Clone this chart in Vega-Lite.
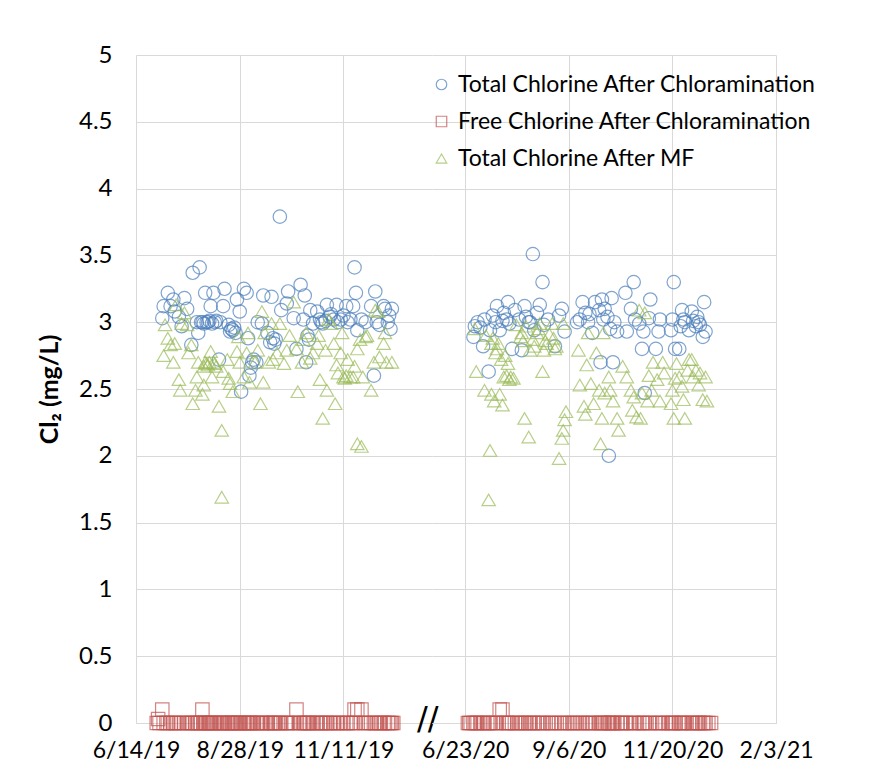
{
 "$schema": "https://vega.github.io/schema/vega-lite/v6.json",
 "autosize": {"type": "pad"},
 "padding": {"left": 37, "top": 43, "right": 5, "bottom": 5},
 "background": "white",
 "bounds": "flush",
 "spacing": 0,
 "config": {"view": {"stroke": null}, "font": "Lato"},
 "resolve": {"scale": {"x": "independent", "y": "independent", "color": "shared", "shape": "shared"}},
 "datasets": {
  "p2019": [
    {"d":"2019-07-03","total":3.03,"free":0.1},{"d":"2019-07-04","total":3.12,"free":0},{"d":"2019-07-07","total":3.22,"free":0},{"d":"2019-07-09","total":3.12,"free":0},{"d":"2019-07-11","total":3.17,"free":0},{"d":"2019-07-12","total":3.08,"free":0},{"d":"2019-07-15","total":3.04,"free":0},{"d":"2019-07-17","total":2.97,"free":0},{"d":"2019-07-19","total":3.18,"free":0},{"d":"2019-07-21","total":3.10,"free":0},{"d":"2019-07-24","total":2.83,"free":0},{"d":"2019-07-25","total":3.37,"free":0},{"d":"2019-07-28","total":3.00,"free":0},{"d":"2019-07-29","total":2.92,"free":0},{"d":"2019-07-30","total":3.41,"free":0},{"d":"2019-07-31","total":3.00,"free":0},{"d":"2019-08-01","total":3.00,"free":0.1},{"d":"2019-08-02","total":2.99,"free":0},{"d":"2019-08-03","total":3.22,"free":0},{"d":"2019-08-04","total":3.00,"free":0},{"d":"2019-08-05","total":3.00,"free":0},{"d":"2019-08-06","total":3.01,"free":0},{"d":"2019-08-07","total":3.12,"free":0},{"d":"2019-08-08","total":2.99,"free":0},{"d":"2019-08-09","total":3.22,"free":0},{"d":"2019-08-10","total":3.00,"free":0},{"d":"2019-08-11","total":3.01,"free":0},{"d":"2019-08-13","total":2.72,"free":0},{"d":"2019-08-14","total":3.00,"free":0},{"d":"2019-08-16","total":3.12,"free":0},{"d":"2019-08-17","total":3.25,"free":0},{"d":"2019-08-20","total":2.98,"free":0},{"d":"2019-08-21","total":2.93,"free":0},{"d":"2019-08-22","total":2.95,"free":0},{"d":"2019-08-23","total":2.94,"free":0},{"d":"2019-08-24","total":2.96,"free":0},{"d":"2019-08-25","total":2.92,"free":0},{"d":"2019-08-26","total":3.17,"free":0},{"d":"2019-08-28","total":3.08,"free":0},{"d":"2019-08-29","total":2.48,"free":0},{"d":"2019-08-31","total":3.25,"free":0},{"d":"2019-09-02","total":3.22,"free":0},{"d":"2019-09-03","total":2.88,"free":0},{"d":"2019-09-04","total":2.60,"free":0},{"d":"2019-09-05","total":2.66,"free":0},{"d":"2019-09-06","total":2.70,"free":0},{"d":"2019-09-07","total":2.72,"free":0},{"d":"2019-09-09","total":2.70,"free":0},{"d":"2019-09-10","total":3.00,"free":0},{"d":"2019-09-13","total":2.99,"free":0},{"d":"2019-09-14","total":3.20,"free":0},{"d":"2019-09-17","total":2.92,"free":0},{"d":"2019-09-19","total":2.85,"free":0},{"d":"2019-09-20","total":3.19,"free":0},{"d":"2019-09-21","total":2.88,"free":0},{"d":"2019-09-22","total":2.84,"free":0},{"d":"2019-09-23","total":2.87,"free":0},{"d":"2019-09-26","total":3.79,"free":0},{"d":"2019-09-27","total":3.09,"free":0},{"d":"2019-10-01","total":3.14,"free":0},{"d":"2019-10-02","total":3.23,"free":0},{"d":"2019-10-06","total":3.03,"free":0},{"d":"2019-10-08","total":2.80,"free":0.1},{"d":"2019-10-11","total":3.28,"free":0},{"d":"2019-10-13","total":3.02,"free":0},{"d":"2019-10-14","total":3.20,"free":0},{"d":"2019-10-15","total":2.70,"free":0},{"d":"2019-10-16","total":2.90,"free":0},{"d":"2019-10-17","total":2.87,"free":0},{"d":"2019-10-18","total":3.09,"free":0},{"d":"2019-10-20","total":2.99,"free":0},{"d":"2019-10-23","total":3.08,"free":0},{"d":"2019-10-25","total":3.02,"free":0},{"d":"2019-10-26","total":3.00,"free":0},{"d":"2019-10-27","total":2.99,"free":0},{"d":"2019-10-29","total":3.01,"free":0},{"d":"2019-10-30","total":3.13,"free":0},{"d":"2019-11-01","total":3.04,"free":0},{"d":"2019-11-02","total":3.06,"free":0},{"d":"2019-11-04","total":3.02,"free":0},{"d":"2019-11-06","total":3.13,"free":0},{"d":"2019-11-07","total":3.00,"free":0},{"d":"2019-11-09","total":3.02,"free":0},{"d":"2019-11-11","total":3.05,"free":0},{"d":"2019-11-13","total":3.12,"free":0},{"d":"2019-11-14","total":3.00,"free":0},{"d":"2019-11-16","total":3.02,"free":0},{"d":"2019-11-18","total":3.12,"free":0},{"d":"2019-11-19","total":3.41,"free":0.1},{"d":"2019-11-20","total":3.22,"free":0},{"d":"2019-11-21","total":2.94,"free":0.1},{"d":"2019-11-24","total":3.02,"free":0.1},{"d":"2019-11-27","total":3.00,"free":0},{"d":"2019-12-01","total":3.12,"free":0},{"d":"2019-12-03","total":2.60,"free":0},{"d":"2019-12-04","total":3.23,"free":0},{"d":"2019-12-05","total":3.00,"free":0},{"d":"2019-12-07","total":2.98,"free":0},{"d":"2019-12-10","total":3.12,"free":0},{"d":"2019-12-11","total":3.10,"free":0},{"d":"2019-12-13","total":3.00,"free":0},{"d":"2019-12-14","total":3.05,"free":0},{"d":"2019-12-15","total":2.95,"free":0},{"d":"2019-12-16","total":3.10,"free":0},
    {"d":"2019-06-29","free":0},{"d":"2019-06-30","free":0.03},{"d":"2019-07-01","free":0},{"d":"2019-07-06","free":0},{"d":"2019-07-13","free":0},{"d":"2019-07-23","free":0},{"d":"2019-07-27","free":0},{"d":"2019-08-15","free":0},{"d":"2019-08-19","free":0},{"d":"2019-08-27","free":0},{"d":"2019-09-01","free":0},{"d":"2019-09-12","free":0},{"d":"2019-09-16","free":0},{"d":"2019-09-25","free":0},{"d":"2019-09-30","free":0},{"d":"2019-10-04","free":0},{"d":"2019-10-10","free":0},{"d":"2019-10-22","free":0},{"d":"2019-11-26","free":0},{"d":"2019-11-29","free":0},{"d":"2019-12-08","free":0},{"d":"2019-12-17","free":0},
    {"d":"2019-07-04","mf":2.75},{"d":"2019-07-05","mf":2.98},{"d":"2019-07-07","mf":2.88},{"d":"2019-07-09","mf":2.83},{"d":"2019-07-11","mf":2.70},{"d":"2019-07-12","mf":2.84},{"d":"2019-07-13","mf":3.13},{"d":"2019-07-15","mf":2.57},{"d":"2019-07-16","mf":2.49},{"d":"2019-07-17","mf":2.99},{"d":"2019-07-19","mf":3.07},{"d":"2019-07-21","mf":2.98},{"d":"2019-07-22","mf":2.77},{"d":"2019-07-24","mf":2.83},{"d":"2019-07-25","mf":2.39},{"d":"2019-07-27","mf":2.49},{"d":"2019-07-28","mf":2.59},{"d":"2019-07-29","mf":2.70},{"d":"2019-08-01","mf":2.46},{"d":"2019-08-02","mf":2.53},{"d":"2019-08-02","mf":2.67},{"d":"2019-08-03","mf":2.70},{"d":"2019-08-04","mf":2.69},{"d":"2019-08-05","mf":2.68},{"d":"2019-08-06","mf":2.70},{"d":"2019-08-07","mf":2.78},{"d":"2019-08-08","mf":2.59},{"d":"2019-08-09","mf":2.70},{"d":"2019-08-10","mf":2.69},{"d":"2019-08-11","mf":2.67},{"d":"2019-08-13","mf":2.37},{"d":"2019-08-15","mf":2.19},{"d":"2019-08-15","mf":1.69},{"d":"2019-08-16","mf":2.63},{"d":"2019-08-19","mf":2.72},{"d":"2019-08-20","mf":2.58},{"d":"2019-08-21","mf":2.54},{"d":"2019-08-23","mf":2.48},{"d":"2019-08-26","mf":2.78},{"d":"2019-08-27","mf":2.89},{"d":"2019-08-28","mf":2.70},{"d":"2019-08-31","mf":2.59},{"d":"2019-09-02","mf":2.77},{"d":"2019-09-03","mf":2.92},{"d":"2019-09-04","mf":2.55},{"d":"2019-09-08","mf":2.70},{"d":"2019-09-10","mf":2.79},{"d":"2019-09-12","mf":2.39},{"d":"2019-09-13","mf":3.08},{"d":"2019-09-14","mf":2.55},{"d":"2019-09-15","mf":2.92},{"d":"2019-09-18","mf":2.70},{"d":"2019-09-20","mf":2.99},{"d":"2019-09-21","mf":2.72},{"d":"2019-09-24","mf":2.77},{"d":"2019-09-26","mf":2.99},{"d":"2019-09-29","mf":2.69},{"d":"2019-10-01","mf":2.79},{"d":"2019-10-03","mf":2.90},{"d":"2019-10-06","mf":3.15},{"d":"2019-10-08","mf":2.80},{"d":"2019-10-09","mf":2.48},{"d":"2019-10-12","mf":2.70},{"d":"2019-10-13","mf":2.87},{"d":"2019-10-15","mf":2.92},{"d":"2019-10-18","mf":2.73},{"d":"2019-10-20","mf":2.77},{"d":"2019-10-23","mf":2.84},{"d":"2019-10-24","mf":2.90},{"d":"2019-10-25","mf":2.57},{"d":"2019-10-27","mf":2.28},{"d":"2019-10-29","mf":2.79},{"d":"2019-10-30","mf":2.49},{"d":"2019-10-31","mf":3.02},{"d":"2019-11-02","mf":2.99},{"d":"2019-11-04","mf":2.84},{"d":"2019-11-05","mf":2.39},{"d":"2019-11-06","mf":2.68},{"d":"2019-11-07","mf":2.62},{"d":"2019-11-09","mf":2.77},{"d":"2019-11-10","mf":2.92},{"d":"2019-11-11","mf":2.59},{"d":"2019-11-12","mf":2.58},{"d":"2019-11-13","mf":2.60},{"d":"2019-11-14","mf":2.72},{"d":"2019-11-16","mf":2.59},{"d":"2019-11-18","mf":2.59},{"d":"2019-11-19","mf":2.67},{"d":"2019-11-21","mf":2.09},{"d":"2019-11-21","mf":2.80},{"d":"2019-11-23","mf":2.87},{"d":"2019-11-24","mf":2.07},{"d":"2019-11-25","mf":2.59},{"d":"2019-11-27","mf":2.89},{"d":"2019-11-28","mf":2.90},{"d":"2019-12-01","mf":2.49},{"d":"2019-12-03","mf":2.70},{"d":"2019-12-04","mf":3.09},{"d":"2019-12-06","mf":3.08},{"d":"2019-12-07","mf":2.74},{"d":"2019-12-10","mf":2.84},{"d":"2019-12-11","mf":2.92},{"d":"2019-12-12","mf":2.70},{"d":"2019-12-16","mf":2.70}
  ],
  "p2020": [
    {"d":"2020-06-29","total":2.89,"free":0},{"d":"2020-06-30","total":2.97,"free":0},{"d":"2020-07-02","total":3.00,"free":0},{"d":"2020-07-04","total":2.96,"free":0},{"d":"2020-07-06","total":2.82,"free":0},{"d":"2020-07-07","total":3.02,"free":0},{"d":"2020-07-10","total":2.63,"free":0},{"d":"2020-07-11","total":2.94,"free":0},{"d":"2020-07-13","total":3.05,"free":0},{"d":"2020-07-15","total":3.00,"free":0},{"d":"2020-07-16","total":3.12,"free":0},{"d":"2020-07-18","total":2.94,"free":0.1},{"d":"2020-07-20","total":3.01,"free":0.1},{"d":"2020-07-21","total":3.07,"free":0},{"d":"2020-07-23","total":3.02,"free":0},{"d":"2020-07-24","total":3.15,"free":0},{"d":"2020-07-25","total":2.99,"free":0},{"d":"2020-07-27","total":2.80,"free":0},{"d":"2020-07-29","total":3.09,"free":0},{"d":"2020-08-01","total":3.02,"free":0},{"d":"2020-08-03","total":2.79,"free":0},{"d":"2020-08-05","total":3.12,"free":0},{"d":"2020-08-06","total":3.04,"free":0},{"d":"2020-08-08","total":3.00,"free":0},{"d":"2020-08-09","total":3.00,"free":0},{"d":"2020-08-11","total":3.51,"free":0},{"d":"2020-08-12","total":2.94,"free":0},{"d":"2020-08-14","total":3.07,"free":0},{"d":"2020-08-16","total":3.13,"free":0},{"d":"2020-08-18","total":3.30,"free":0},{"d":"2020-08-19","total":2.98,"free":0},{"d":"2020-08-22","total":3.02,"free":0},{"d":"2020-08-27","total":2.82,"free":0},{"d":"2020-08-30","total":3.05,"free":0},{"d":"2020-09-01","total":3.10,"free":0},{"d":"2020-09-03","total":2.93,"free":0},{"d":"2020-09-12","total":3.00,"free":0},{"d":"2020-09-14","total":3.02,"free":0},{"d":"2020-09-16","total":3.15,"free":0},{"d":"2020-09-18","total":3.07,"free":0},{"d":"2020-09-20","total":3.00,"free":0},{"d":"2020-09-21","total":3.06,"free":0},{"d":"2020-09-23","total":2.92,"free":0},{"d":"2020-09-25","total":3.15,"free":0},{"d":"2020-09-28","total":3.09,"free":0},{"d":"2020-09-29","total":2.70,"free":0},{"d":"2020-09-30","total":3.17,"free":0},{"d":"2020-10-01","total":3.02,"free":0},{"d":"2020-10-02","total":3.10,"free":0},{"d":"2020-10-04","total":3.04,"free":0},{"d":"2020-10-05","total":2.00,"free":0},{"d":"2020-10-06","total":2.95,"free":0},{"d":"2020-10-07","total":3.18,"free":0},{"d":"2020-10-08","total":2.70,"free":0},{"d":"2020-10-09","total":3.00,"free":0},{"d":"2020-10-11","total":2.93,"free":0},{"d":"2020-10-17","total":3.22,"free":0},{"d":"2020-10-18","total":2.93,"free":0},{"d":"2020-10-21","total":3.10,"free":0},{"d":"2020-10-23","total":3.30,"free":0},{"d":"2020-10-24","total":3.02,"free":0},{"d":"2020-10-27","total":2.99,"free":0},{"d":"2020-10-29","total":2.80,"free":0},{"d":"2020-10-30","total":2.93,"free":0},{"d":"2020-10-31","total":2.47,"free":0},{"d":"2020-11-03","total":3.03,"free":0},{"d":"2020-11-04","total":3.17,"free":0},{"d":"2020-11-08","total":2.80,"free":0},{"d":"2020-11-10","total":2.93,"free":0},{"d":"2020-11-11","total":3.02,"free":0},{"d":"2020-11-19","total":2.94,"free":0},{"d":"2020-11-20","total":3.02,"free":0},{"d":"2020-11-21","total":3.30,"free":0},{"d":"2020-11-22","total":2.80,"free":0},{"d":"2020-11-25","total":2.80,"free":0},{"d":"2020-11-26","total":2.97,"free":0},{"d":"2020-11-27","total":3.09,"free":0},{"d":"2020-11-28","total":3.02,"free":0},{"d":"2020-11-29","total":3.00,"free":0},{"d":"2020-12-02","total":2.94,"free":0},{"d":"2020-12-04","total":3.08,"free":0},{"d":"2020-12-05","total":3.01,"free":0},{"d":"2020-12-07","total":2.97,"free":0},{"d":"2020-12-08","total":3.04,"free":0},{"d":"2020-12-09","total":3.00,"free":0},{"d":"2020-12-10","total":2.98,"free":0},{"d":"2020-12-12","total":2.89,"free":0},{"d":"2020-12-13","total":3.15,"free":0},{"d":"2020-12-14","total":2.93,"free":0},
    {"d":"2020-06-25","free":0},{"d":"2020-06-26","free":0},{"d":"2020-06-27","free":0},{"d":"2020-07-01","free":0},{"d":"2020-07-09","free":0},{"d":"2020-07-31","free":0},{"d":"2020-08-24","free":0},{"d":"2020-08-25","free":0},{"d":"2020-09-05","free":0},{"d":"2020-09-07","free":0},{"d":"2020-09-09","free":0},{"d":"2020-09-10","free":0},{"d":"2020-10-13","free":0},{"d":"2020-10-14","free":0},{"d":"2020-10-15","free":0},{"d":"2020-11-13","free":0},{"d":"2020-11-15","free":0},{"d":"2020-11-17","free":0},{"d":"2020-12-16","free":0},{"d":"2020-12-18","free":0},
    {"d":"2020-06-30","mf":2.95},{"d":"2020-07-01","mf":2.63},{"d":"2020-07-07","mf":2.49},{"d":"2020-07-08","mf":2.90},{"d":"2020-07-10","mf":1.67},{"d":"2020-07-11","mf":2.04},{"d":"2020-07-12","mf":2.46},{"d":"2020-07-12","mf":2.84},{"d":"2020-07-13","mf":2.88},{"d":"2020-07-14","mf":2.41},{"d":"2020-07-15","mf":2.77},{"d":"2020-07-16","mf":2.80},{"d":"2020-07-17","mf":2.84},{"d":"2020-07-18","mf":2.46},{"d":"2020-07-19","mf":2.72},{"d":"2020-07-20","mf":2.38},{"d":"2020-07-21","mf":2.59},{"d":"2020-07-22","mf":2.75},{"d":"2020-07-23","mf":2.60},{"d":"2020-07-24","mf":2.69},{"d":"2020-07-25","mf":2.57},{"d":"2020-07-26","mf":2.59},{"d":"2020-07-28","mf":2.58},{"d":"2020-07-30","mf":2.98},{"d":"2020-08-02","mf":2.89},{"d":"2020-08-03","mf":2.92},{"d":"2020-08-04","mf":2.86},{"d":"2020-08-05","mf":2.28},{"d":"2020-08-06","mf":2.97},{"d":"2020-08-08","mf":2.14},{"d":"2020-08-09","mf":2.79},{"d":"2020-08-11","mf":2.87},{"d":"2020-08-12","mf":2.82},{"d":"2020-08-14","mf":2.92},{"d":"2020-08-15","mf":2.95},{"d":"2020-08-16","mf":2.99},{"d":"2020-08-18","mf":2.63},{"d":"2020-08-19","mf":2.79},{"d":"2020-08-20","mf":2.86},{"d":"2020-08-21","mf":2.84},{"d":"2020-08-23","mf":2.91},{"d":"2020-08-25","mf":2.99},{"d":"2020-08-26","mf":2.88},{"d":"2020-08-27","mf":2.80},{"d":"2020-08-28","mf":2.82},{"d":"2020-08-30","mf":1.98},{"d":"2020-09-01","mf":2.13},{"d":"2020-09-02","mf":2.19},{"d":"2020-09-03","mf":2.27},{"d":"2020-09-04","mf":2.33},{"d":"2020-09-02","mf":2.99},{"d":"2020-09-13","mf":2.79},{"d":"2020-09-14","mf":2.53},{"d":"2020-09-17","mf":2.37},{"d":"2020-09-18","mf":2.31},{"d":"2020-09-19","mf":2.68},{"d":"2020-09-20","mf":2.92},{"d":"2020-09-22","mf":2.54},{"d":"2020-09-24","mf":2.39},{"d":"2020-09-26","mf":2.77},{"d":"2020-09-28","mf":2.49},{"d":"2020-09-29","mf":2.09},{"d":"2020-09-30","mf":2.28},{"d":"2020-10-01","mf":2.92},{"d":"2020-10-02","mf":2.47},{"d":"2020-10-05","mf":2.59},{"d":"2020-10-06","mf":2.49},{"d":"2020-10-08","mf":2.41},{"d":"2020-10-11","mf":2.28},{"d":"2020-10-12","mf":2.19},{"d":"2020-10-15","mf":2.67},{"d":"2020-10-18","mf":2.59},{"d":"2020-10-21","mf":2.49},{"d":"2020-10-22","mf":2.34},{"d":"2020-10-23","mf":2.44},{"d":"2020-10-25","mf":2.29},{"d":"2020-10-27","mf":3.09},{"d":"2020-10-28","mf":2.28},{"d":"2020-10-29","mf":2.47},{"d":"2020-10-31","mf":3.07},{"d":"2020-11-02","mf":2.41},{"d":"2020-11-03","mf":2.60},{"d":"2020-11-05","mf":2.49},{"d":"2020-11-06","mf":2.70},{"d":"2020-11-09","mf":2.57},{"d":"2020-11-11","mf":2.41},{"d":"2020-11-13","mf":2.70},{"d":"2020-11-14","mf":2.62},{"d":"2020-11-19","mf":2.39},{"d":"2020-11-20","mf":2.49},{"d":"2020-11-21","mf":2.28},{"d":"2020-11-22","mf":2.58},{"d":"2020-11-23","mf":2.69},{"d":"2020-11-25","mf":2.59},{"d":"2020-11-27","mf":2.52},{"d":"2020-11-28","mf":2.42},{"d":"2020-11-29","mf":2.28},{"d":"2020-12-01","mf":2.64},{"d":"2020-12-02","mf":2.72},{"d":"2020-12-04","mf":2.72},{"d":"2020-12-05","mf":2.59},{"d":"2020-12-07","mf":2.64},{"d":"2020-12-09","mf":2.53},{"d":"2020-12-10","mf":2.62},{"d":"2020-12-12","mf":2.42},{"d":"2020-12-14","mf":2.59},{"d":"2020-12-15","mf":2.41}
  ]
 },
 "hconcat": [
  {
   "width": 296, "height": 668,
   "layer": [
    {
     "data": {"name": "p2019"},
     "transform": [{"fold": ["total", "free", "mf"], "as": ["k", "v"]}, {"filter": "isValid(datum.v)"}],
     "mark": {"type": "point", "filled": false, "size": 180, "strokeWidth": 1.2},
     "encoding": {
      "x": {"field": "d", "type": "temporal",
       "scale": {"domain": [{"year":2019,"month":6,"date":14},{"year":2020,"month":1,"date":14}], "nice": false},
       "axis": {"title": null, "values": [{"year":2019,"month":6,"date":14},{"year":2019,"month":8,"date":28},{"year":2019,"month":11,"date":11}],
        "format": "%-m/%-d/%y", "labelFontSize": 23, "labelColor": "black", "labelPadding": 16, "ticks": false, "domain": true, "domainColor": "#D9D9D9", "grid": true, "gridColor": "#D9D9D9", "labelFlush": false, "labelOverlap": false}},
      "y": {"field": "v", "type": "quantitative",
       "scale": {"domain": [0, 5], "nice": false},
       "axis": {"title": "Cl₂ (mg/L)", "values": [0,0.5,1,1.5,2,2.5,3,3.5,4,4.5,5], "labelExpr": "'' + datum.value",
        "titleFontSize": 25, "titleFontWeight": "bold", "titleColor": "black", "titlePadding": 16,
        "labelFontSize": 24, "labelColor": "black", "labelPadding": 24, "ticks": false, "domain": false, "grid": true, "gridColor": "#D9D9D9"}},
      "color": {"field": "k", "type": "nominal",
       "scale": {"domain": ["total", "free", "mf"], "range": ["#4A7EBB", "#C0504D", "#9BBB59"]},
       "legend": {"title": null, "orient": "none", "legendX": 294, "legendY": 18,
        "labelExpr": "datum.label == 'total' ? 'Total Chlorine After Chloramination' : datum.label == 'free' ? 'Free Chlorine After Chloramination' : 'Total Chlorine After MF'",
        "labelFontSize": 23, "labelColor": "black", "labelLimit": 0, "symbolSize": 110, "symbolStrokeWidth": 1.2, "rowPadding": 13, "labelOffset": 5}},
      "shape": {"field": "k", "type": "nominal",
       "scale": {"domain": ["total", "free", "mf"], "range": ["circle", "square", "triangle-up"]}}
     }
    },
    {
     "data": {"values": [{"d": "2020-01-11", "v": 0, "t": "//"}]},
     "mark": {"type": "text", "fontSize": 32, "font": "DejaVu Sans", "align": "center", "baseline": "middle", "dy": -4, "color": "black"},
     "encoding": {"x": {"field": "d", "type": "temporal"}, "y": {"field": "v", "type": "quantitative"}, "text": {"field": "t"}}
    }
   ]
  },
  {
   "width": 344, "height": 668,
   "data": {"name": "p2020"},
   "transform": [{"fold": ["total", "free", "mf"], "as": ["k", "v"]}, {"filter": "isValid(datum.v)"}],
   "mark": {"type": "point", "filled": false, "size": 180, "strokeWidth": 1.2},
   "encoding": {
    "x": {"field": "d", "type": "temporal",
     "scale": {"domain": [{"year":2020,"month":5,"date":30},{"year":2021,"month":2,"date":3}], "nice": false},
     "axis": {"title": null, "values": [{"year":2020,"month":6,"date":23},{"year":2020,"month":9,"date":6},{"year":2020,"month":11,"date":20},{"year":2021,"month":2,"date":3}],
      "format": "%-m/%-d/%y", "labelFontSize": 23, "labelColor": "black", "labelPadding": 16, "ticks": false, "domain": true, "domainColor": "#D9D9D9", "grid": true, "gridColor": "#D9D9D9", "labelFlush": false, "labelOverlap": false}},
    "y": {"field": "v", "type": "quantitative",
     "scale": {"domain": [0, 5], "nice": false},
     "axis": {"title": null, "values": [0,0.5,1,1.5,2,2.5,3,3.5,4,4.5,5], "labels": false, "ticks": false, "domain": false, "grid": true, "gridColor": "#D9D9D9", "minExtent": 0, "maxExtent": 0}},
    "color": {"field": "k", "type": "nominal",
     "scale": {"domain": ["total", "free", "mf"], "range": ["#4A7EBB", "#C0504D", "#9BBB59"]},
     "legend": {"title": null, "orient": "none", "legendX": 294, "legendY": 18,
      "labelExpr": "datum.label == 'total' ? 'Total Chlorine After Chloramination' : datum.label == 'free' ? 'Free Chlorine After Chloramination' : 'Total Chlorine After MF'",
      "labelFontSize": 23, "labelColor": "black", "labelLimit": 0, "symbolSize": 110, "symbolStrokeWidth": 1.2, "rowPadding": 13, "labelOffset": 5}},
    "shape": {"field": "k", "type": "nominal",
     "scale": {"domain": ["total", "free", "mf"], "range": ["circle", "square", "triangle-up"]}}
   }
  }
 ]
}
